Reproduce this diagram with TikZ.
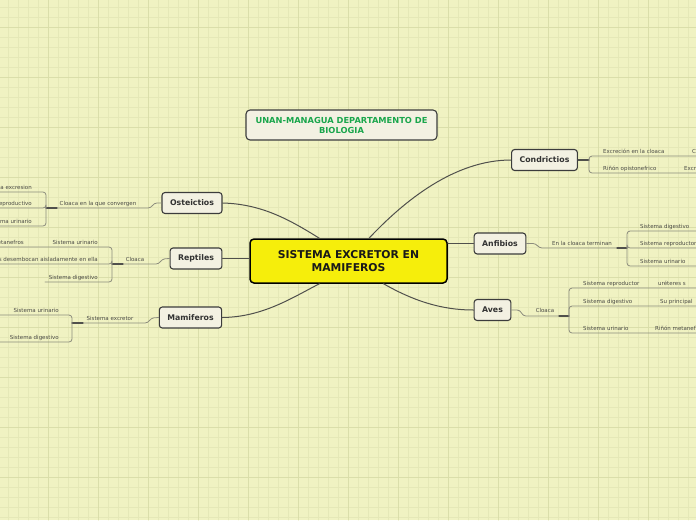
\documentclass[tikz,border=0pt]{standalone}
\usepackage{fontspec}
\setmainfont{DejaVu Sans}
\definecolor{paper}{RGB}{240,242,194}
\definecolor{gridfine}{RGB}{229,232,183}
\definecolor{gridbold}{RGB}{218,222,170}
\definecolor{stemgray}{RGB}{80,80,76}
\definecolor{twiggray}{RGB}{140,140,125}
\definecolor{boxfill}{RGB}{243,241,226}
\definecolor{boxline}{RGB}{60,60,60}
\definecolor{boxtext}{RGB}{50,50,50}
\definecolor{leafgray}{RGB}{75,75,70}
\definecolor{unangreen}{RGB}{26,166,76}
\definecolor{coreyellow}{RGB}{246,238,11}
\begin{document}
\begin{tikzpicture}[x=1pt,y=-1pt,line join=round,line cap=round,
	topic/.style={draw=boxline,fill=boxfill,line width=1.1pt,rounded corners=3pt,minimum height=21pt,inner xsep=8pt,inner ysep=0pt,text=boxtext,font=\bfseries\fontsize{7.8}{9}\selectfont},
	core/.style={draw=black,fill=coreyellow,line width=1.5pt,rounded corners=4pt,minimum width=197pt,minimum height=44pt,align=center,text=black!90,font=\bfseries\fontsize{10.8}{13}\selectfont},
	banner/.style={draw=boxline,fill=boxfill,line width=1.1pt,rounded corners=4pt,minimum width=191pt,minimum height=30pt,align=center,text=unangreen,font=\bfseries\fontsize{8.3}{10}\selectfont},
	leaf/.style={inner sep=0pt,text=leafgray,font=\fontsize{5.5}{6.5}\selectfont},
	stem/.style={draw=stemgray,line width=1pt},
	twig/.style={draw=twiggray,line width=0.8pt,rounded corners=3pt},
	knot/.style={draw=stemgray,line width=1.3pt},
	minorline/.style={draw=gridfine,line width=0.6pt},
	majorline/.style={draw=gridbold,line width=0.7pt}]
	\useasboundingbox (0,0) rectangle (696,520);
	\clip (0,0) rectangle (696,520);
	\fill[paper] (0,0) rectangle (696,520);
	\foreach \x in {8,18,...,696} \draw[minorline] (\x,0) -- (\x,520);
	\foreach \y in {7,17,...,520} \draw[minorline] (0,\y) -- (696,\y);
	\foreach \x in {48,98,...,696} \draw[majorline] (\x,0) -- (\x,520);
	\foreach \y in {27,77,...,520} \draw[majorline] (0,\y) -- (696,\y);
	
	\node[banner] (title) at (341.5,125) {UNAN-MANAGUA DEPARTAMENTO DE\\BIOLOGIA};
	\node[core] (centre) at (348.5,261) {SISTEMA EXCRETOR EN\\MAMIFEROS};
	\node[topic] (oste) at (192,203) {Osteictios};
	\node[topic] (rept) at (196,258.5) {Reptiles};
	\node[topic] (mami) at (190.5,317.5) {Mamiferos};
	\node[topic] (cond) at (544.5,160) {Condrictios};
	\node[topic] (anf) at (500,243.5) {Anfibios};
	\node[topic] (aves) at (492.5,310) {Aves};
	
	\draw[stem] (oste.east) .. controls (262,204) and (290,220) .. (centre.142);
	\draw[stem] (rept.east) -- (rept.east -| centre.west);
	\draw[stem] (mami.east) .. controls (262,317) and (290,299) .. (centre.-142);
	\draw[stem] (centre.48) .. controls (405,200) and (455,160) .. (cond.west);
	\draw[stem] (anf.west -| centre.east) -- (anf.west);
	\draw[stem] (centre.-33) .. controls (412,300) and (440,310) .. (aves.west);
	
	% Osteictios
	\coordinate (osteJ) at (57,208);
	\coordinate (osteK) at (46,208);
	\draw[twig] (oste.west) -- (154,203) -- (151,208) -- (osteJ);
	\node[leaf,anchor=base] (osteL) at (98,205) {Cloaca en la que convergen};
	\draw[knot] (osteJ) -- (osteK);
	\foreach \ly/\txt in {192/a excresion,208/Sistema reproductivo,226/Sistema urinario}{
		\node[leaf,anchor=base east] (oste\ly) at (32,\ly-3) {\txt};
		\coordinate (oste\ly e) at (-5,\ly);
		\draw[twig] (osteK) |- (oste\ly e);
	}
	
	% Reptiles
	\coordinate (reptJ) at (123,264);
	\coordinate (reptK) at (112,264);
	\draw[twig] (rept.west) -- (162,259) -- (159,264) -- (reptJ);
	\node[leaf,anchor=base] (reptL) at (135,261) {Cloaca};
	\draw[knot] (reptJ) -- (reptK);
	\foreach \ly/\lx/\txt in {247/-5/Sistema urinario,264/-5/s desembocan aisladamente en ella,282/45/Sistema digestivo}{
		\node[leaf,anchor=base east] (rept\ly) at (98,\ly-3) {\txt};
		\coordinate (rept\ly e) at (\lx,\ly);
		\draw[twig] (reptK) |- (rept\ly e);
	}
	\node[leaf,anchor=base east] (reptG) at (24,244) {metanefros};
	
	% Mamiferos
	\coordinate (mamiJ) at (83,323);
	\coordinate (mamiK) at (72,323);
	\draw[twig] (mami.west) -- (151,318) -- (148,323) -- (mamiJ);
	\node[leaf,anchor=base] (mamiL) at (110,320) {Sistema excretor};
	\draw[knot] (mamiJ) -- (mamiK);
	\foreach \ly/\txt in {315/Sistema urinario,342/Sistema digestivo}{
		\node[leaf,anchor=base east] (mami\ly) at (59,\ly-3) {\txt};
		\coordinate (mami\ly e) at (-5,\ly);
		\draw[twig] (mamiK) |- (mami\ly e);
	}
	
	% Condrictios
	\coordinate (condK) at (589,160);
	\draw[knot] (cond.east) -- (condK);
	\foreach \ly/\txt/\far/\fx in {156/Excreción en la cloaca/C/692,173/Riñón opistonefrico/Excreción/684}{
		\node[leaf,anchor=base west] (cond\ly) at (603,\ly-3) {\txt};
		\node[leaf,anchor=base west] (cond\ly g) at (\fx,\ly-3) {\far};
		\coordinate (cond\ly e) at (701,\ly);
		\draw[twig] (condK) |- (cond\ly e);
	}
	
	% Anfibios
	\coordinate (anfJ) at (617,248);
	\coordinate (anfK) at (627,248);
	\draw[twig] (anf.east) -- (536,243.5) -- (539,248) -- (anfJ);
	\node[leaf,anchor=base] (anfL) at (582,245) {En la cloaca terminan};
	\draw[knot] (anfJ) -- (anfK);
	\foreach \ly/\txt in {231/Sistema digestivo,248/Sistema reproductor,266/Sistema urinario}{
		\node[leaf,anchor=base west] (anf\ly) at (640,\ly-3) {\txt};
		\coordinate (anf\ly e) at (701,\ly);
		\draw[twig] (anfK) |- (anf\ly e);
	}
	
	% Aves
	\coordinate (avesJ) at (559,316);
	\coordinate (avesK) at (569,316);
	\draw[twig] (aves.east) -- (520,310) -- (523,316) -- (avesJ);
	\node[leaf,anchor=base] (avesL) at (545,312) {Cloaca};
	\draw[knot] (avesJ) -- (avesK);
	\foreach \ly/\txt/\far/\fx in {288/Sistema reproductor/uréteres s/658,306/Sistema digestivo/Su principal/660,333/Sistema urinario/Riñón metanefros/655}{
		\node[leaf,anchor=base west] (aves\ly) at (583,\ly-3) {\txt};
		\node[leaf,anchor=base west] (aves\ly g) at (\fx,\ly-3) {\far};
		\coordinate (aves\ly e) at (701,\ly);
		\draw[twig] (avesK) |- (aves\ly e);
	}
\end{tikzpicture}
\end{document}
